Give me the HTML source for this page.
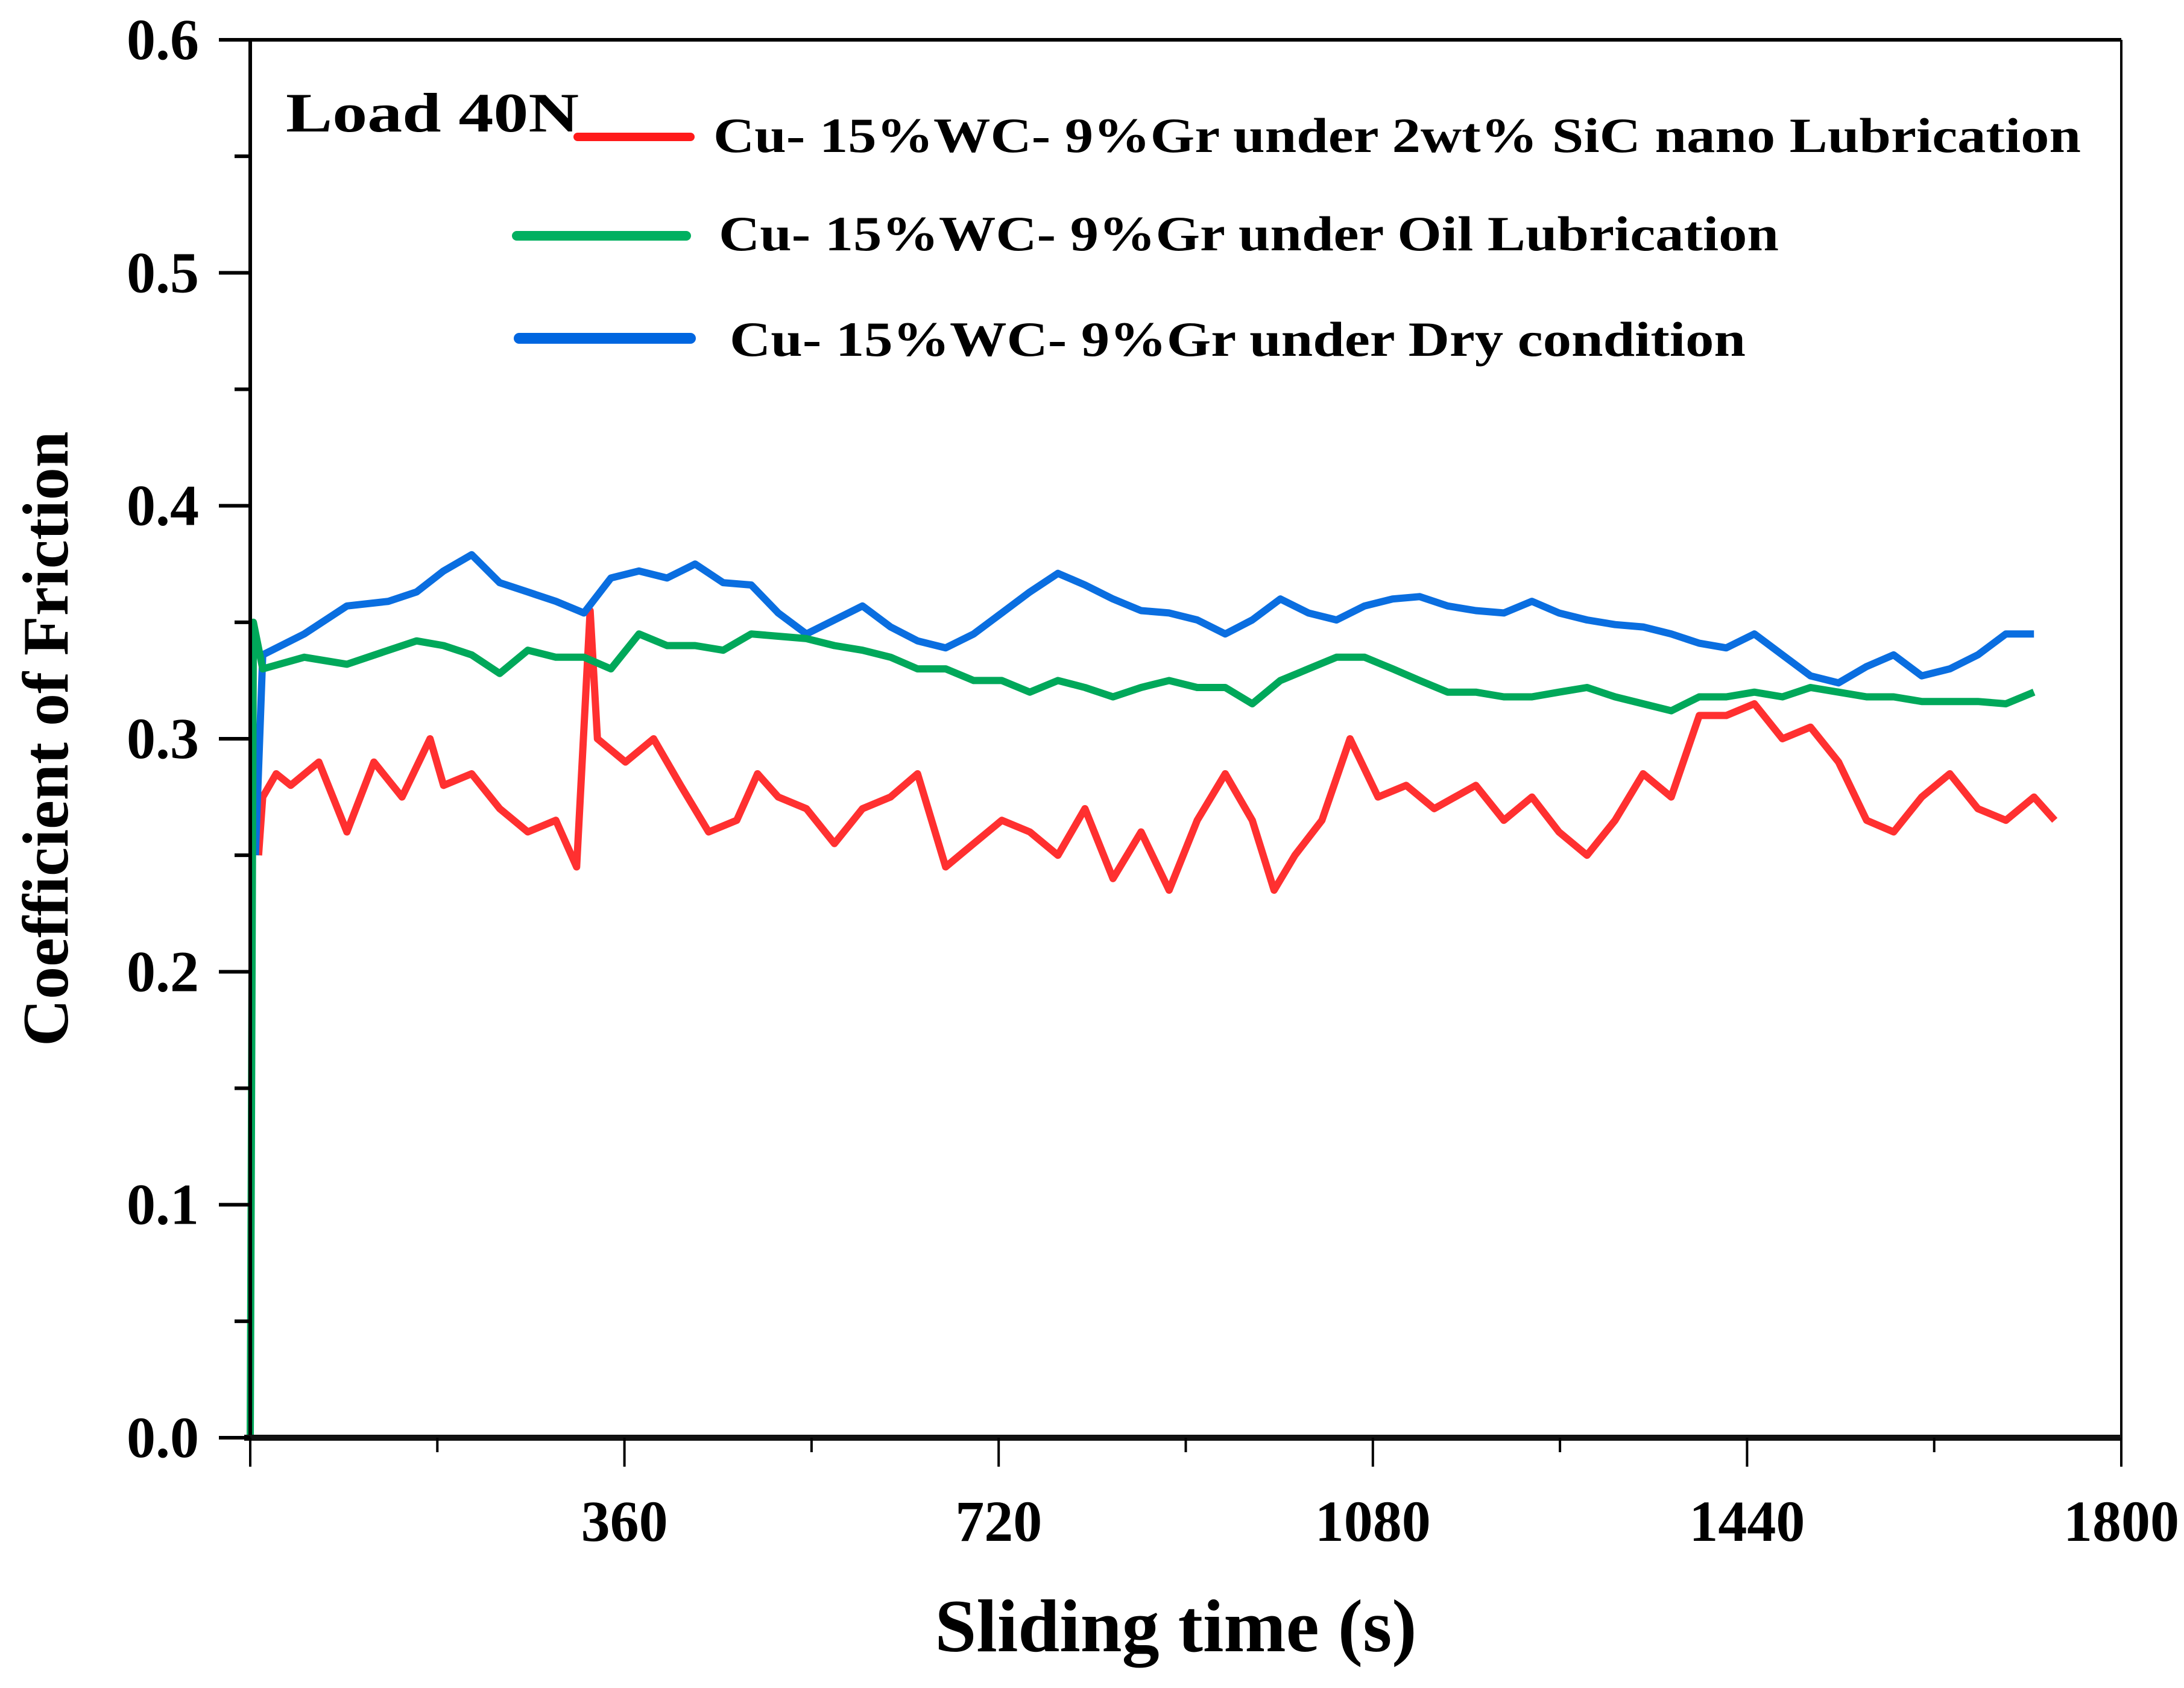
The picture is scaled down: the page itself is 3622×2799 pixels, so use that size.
<!DOCTYPE html>
<html><head><meta charset="utf-8"><style>html,body{margin:0;padding:0;background:#fff}svg{display:block}</style></head>
<body>
<svg id="chart" width="3622" height="2799" viewBox="0 0 3622 2799" xmlns="http://www.w3.org/2000/svg" font-family="'Liberation Serif', serif" font-weight="bold">
<rect width="3622" height="2799" fill="#fff"/>
<g id="series"></g>
<g id="axes"></g>
<text x="0" y="0" transform="translate(112,1225) rotate(-90)" text-anchor="middle" font-size="108">Coefficient of Friction</text>
<text x="1950" y="2738" text-anchor="middle" font-size="124">Sliding time (s)</text>
<text x="474" y="218" font-size="92" textLength="486" lengthAdjust="spacingAndGlyphs">Load 40N</text>
<g>
<line x1="958" y1="227" x2="1145" y2="227" stroke="#ff1a1a" stroke-width="14" stroke-linecap="round"/>
<text x="1183" y="252" font-size="82" textLength="2268" lengthAdjust="spacingAndGlyphs">Cu- 15%WC- 9%Gr under 2wt% SiC nano Lubrication</text>
<line x1="857" y1="391" x2="1138" y2="391" stroke="#00b060" stroke-width="16" stroke-linecap="round"/>
<text x="1192" y="415" font-size="82" textLength="1758" lengthAdjust="spacingAndGlyphs">Cu- 15%WC- 9%Gr under Oil Lubrication</text>
<line x1="861" y1="561" x2="1145" y2="561" stroke="#0066e0" stroke-width="18" stroke-linecap="round"/>
<text x="1210" y="590" font-size="82" textLength="1685" lengthAdjust="spacingAndGlyphs">Cu- 15%WC- 9%Gr under Dry condition</text>
</g>
</svg>
<script>
const gridTimes=[12,52,93,133,160,186,213,240,267,294,321,347,374,401,428,455,482,508,535,562,589,616,642,669,696,723,750,777,803,830,857,884,911,938,964,991,1018,1045,1072,1099,1125,1152,1179,1206,1233,1259,1286,1313,1340,1367,1394,1420,1447,1474,1501,1528,1555,1581,1608,1635,1662,1689,1716];
const dryTimes=[5].concat(gridTimes);
const dryValues=[0.25,0.336,0.345,0.357,0.359,0.363,0.372,0.379,0.367,0.363,0.359,0.354,0.369,0.372,0.369,0.375,0.367,0.366,0.354,0.345,0.351,0.357,0.348,0.342,0.339,0.345,0.354,0.363,0.371,0.366,0.360,0.355,0.354,0.351,0.345,0.351,0.360,0.354,0.351,0.357,0.360,0.361,0.357,0.355,0.354,0.359,0.354,0.351,0.349,0.348,0.345,0.341,0.339,0.345,0.336,0.327,0.324,0.331,0.336,0.327,0.330,0.336,0.345,0.345];
const oilTimes=[0,3].concat(gridTimes);
const oilValues=[0.0,0.35,0.33,0.335,0.332,0.338,0.342,0.34,0.336,0.328,0.338,0.335,0.335,0.33,0.345,0.34,0.34,0.338,0.345,0.344,0.343,0.34,0.338,0.335,0.33,0.33,0.325,0.325,0.32,0.325,0.322,0.318,0.322,0.325,0.322,0.322,0.315,0.325,0.33,0.335,0.335,0.33,0.325,0.32,0.32,0.318,0.318,0.32,0.322,0.318,0.315,0.312,0.318,0.318,0.32,0.318,0.322,0.32,0.318,0.318,0.316,0.316,0.316,0.315,0.32];
const sicTimes=[8,12,25,39,66,93,119,146,173,186,213,240,267,294,314,327,334,361,388,414,441,468,488,508,535,562,589,616,642,669,696,723,750,777,803,830,857,884,911,938,964,985,1005,1031,1058,1085,1112,1139,1179,1206,1233,1259,1286,1313,1340,1367,1394,1420,1447,1474,1501,1528,1555,1581,1608,1635,1662,1689,1716,1736];
const sicValues=[0.25,0.275,0.285,0.28,0.29,0.26,0.29,0.275,0.3,0.28,0.285,0.27,0.26,0.265,0.245,0.355,0.3,0.29,0.3,0.28,0.26,0.265,0.285,0.275,0.27,0.255,0.27,0.275,0.285,0.245,0.255,0.265,0.26,0.25,0.27,0.24,0.26,0.235,0.265,0.285,0.265,0.235,0.25,0.265,0.3,0.275,0.28,0.27,0.28,0.265,0.275,0.26,0.25,0.265,0.285,0.275,0.31,0.31,0.315,0.3,0.305,0.29,0.265,0.26,0.275,0.285,0.27,0.265,0.275,0.265];
const yTickValues=[0.0,0.1,0.2,0.3,0.4,0.5,0.6];
const yTickLabels=["0.0","0.1","0.2","0.3","0.4","0.5","0.6"];
const xTickValues=[360,720,1080,1440,1800];
const xTickLabels=["360","720","1080","1440","1800"];

const L=415,R=3518,T=66,B=2384;
function X(t){return L+t/1800*(R-L);}
function Y(v){return B-v/0.6*(B-T);}
const NS="http://www.w3.org/2000/svg";
const sg=document.getElementById('series');
const ag=document.getElementById('axes');
function mk(tag,attrs,parent){const e=document.createElementNS(NS,tag);for(const k in attrs)e.setAttribute(k,attrs[k]);parent.appendChild(e);return e;}

function drawSeries(times,vals,color,name){
  let d='';
  for(let i=0;i<times.length;i++){d+=(i?'L':'M')+X(times[i]).toFixed(1)+','+Y(vals[i]).toFixed(1);}
  const p=mk('path',{d:d,fill:'none',stroke:color,'stroke-width':12,'stroke-linejoin':'round'},sg);
  
  
}
drawSeries(sicTimes,sicValues,'#ff3030','series-sic-nano');
drawSeries(dryTimes,dryValues,'#0a6ee0','series-dry');
drawSeries(oilTimes,oilValues,'#00a85a','series-oil');

const fr=mk('path',{d:`M${L},${B}L${L},${T}L${R},${T}`,fill:'none',stroke:'#000','stroke-width':6},ag);


const ra=mk('line',{x1:R,y1:T,x2:R,y2:B,stroke:'#000','stroke-width':4},ag);


const xa=mk('line',{x1:L-10,y1:B,x2:R,y2:B,stroke:'#111','stroke-width':10},ag);



for(let i=0;i<yTickValues.length;i++){
  const y=Y(yTickValues[i]);
  const tk=mk('line',{x1:L-52,y1:y,x2:L,y2:y,stroke:'#000','stroke-width':6},ag);
  
  
  const tx=mk('text',{x:L-85,y:y+32,'text-anchor':'end','font-size':96},ag);
  tx.textContent=yTickLabels[i];
  
  
  if(i<yTickValues.length-1){
    const ym=Y(yTickValues[i]+0.05);
    const mt=mk('line',{x1:L-26,y1:ym,x2:L,y2:ym,stroke:'#000','stroke-width':6},ag);
    
    
  }
}
const x0=mk('line',{x1:X(0),y1:B,x2:X(0),y2:B+48,stroke:'#000','stroke-width':4},ag);


for(let i=0;i<xTickValues.length;i++){
  const x=X(xTickValues[i]);
  const tk=mk('line',{x1:x,y1:B,x2:x,y2:B+48,stroke:'#000','stroke-width':4},ag);
  
  
  const xm=X(xTickValues[i]-180);
  const mt=mk('line',{x1:xm,y1:B,x2:xm,y2:B+24,stroke:'#000','stroke-width':4},ag);
  
  
  const tx=mk('text',{x:x,y:2555,'text-anchor':'middle','font-size':96},ag);
  tx.textContent=xTickLabels[i];
  
  
}
</script>
</body></html>
